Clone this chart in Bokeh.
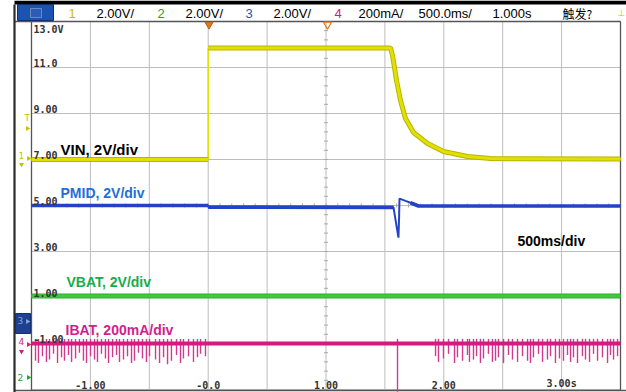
from bokeh.plotting import figure
from bokeh.models import Range1d
from bokeh.core.properties import value
from bokeh.embed import file_html
from bokeh.resources import INLINE
import numpy as np

# ---------------- data ----------------
# axis: time in s, vertical in the scope's displayed volts (2 V/div)
xtick_vals = [-1, 0, 1, 2, 3]
xtick_labels = ["-1.00", "-0.0", "1.00", "2.00", "3.00s"]
ytick_vals = [11, 9, 7, 5, 3, 1, -1]
ytick_labels = ["11.0", "9.00", "7.00", "5.00", "3.00", "1.00", "-1.00"]
ytop_label = "13.0V"

# CH1 VIN
vin_t = [-1.5, 0.0, 0.0, 1.548, 1.565, 1.599, 1.632, 1.675, 1.743, 1.862, 1.997, 2.201, 2.396, 3.5]
vin_v = [7.0, 7.0, 11.85, 11.85, 11.52, 10.43, 9.57, 8.78, 8.17, 7.70, 7.35, 7.13, 7.04, 7.02]

# CH3 PMID
pmid_t = [-1.5, 0.0, 0.0, 1.573, 1.615, 1.620, 1.624, 1.675, 1.717, 1.785, 3.5]
pmid_v = [5.0, 5.0, 4.93, 4.92, 3.6, 4.4, 5.3, 5.2, 5.12, 4.98, 4.98]

# CH2 VBAT
vbat_t = [-1.5, 3.5]
vbat_v = [1.07, 1.07]

# CH4 IBAT (baseline + negative spikes)
ibat_t = [-1.5, 3.5]
ibat_v = [-1.0, -1.0]
spike_t = [-1.466, -1.441, -1.407, -1.373, -1.347, -1.313, -1.279, -1.245, -1.220, -1.186,
           -1.160, -1.126, -1.093, -1.059, -1.033, -0.999, -0.965, -0.940, -0.906, -0.872,
           -0.846, -0.812, -0.778, -0.753, -0.719, -0.685, -0.651, -0.626, -0.592, -0.558,
           -0.524, -0.498, -0.447, -0.413, -0.379, -0.345, -0.312, -0.269, -0.235, -0.210,
           -0.167, -0.125, -0.091, -0.065, -0.023,
           1.607,
           1.930, 1.955, 1.997, 2.040, 2.091, 2.116, 2.159, 2.201, 2.218, 2.252,
           2.278, 2.311, 2.337, 2.379, 2.413, 2.439, 2.464, 2.507, 2.549, 2.583,
           2.626, 2.668, 2.711, 2.736, 2.761, 2.804, 2.838, 2.880, 2.906, 2.948,
           2.982, 3.016, 3.050, 3.076, 3.101, 3.135, 3.177, 3.203, 3.237, 3.271,
           3.305, 3.347, 3.390, 3.415, 3.441, 3.475]
spike_v = [-1.75, -1.85, -1.55, -1.80, -1.70, -1.45, -1.85, -1.60, -1.75, -1.50,
           -1.80, -1.65, -1.40, -1.75, -1.85, -1.55, -1.70, -1.80, -1.45, -1.65,
           -1.85, -1.60, -1.50, -1.80, -1.70, -1.55, -1.85, -1.75, -1.40, -1.65,
           -1.80, -1.55, -1.70, -1.85, -1.60, -1.90, -1.75, -1.50, -1.85, -1.65,
           -1.55, -1.80, -1.60, -1.45, -1.55,
           -3.10,
           -1.55, -1.80, -1.65, -1.45, -1.85, -1.60, -1.75, -1.50, -1.80, -1.70,
           -1.55, -1.85, -1.65, -1.45, -1.80, -1.75, -1.60, -1.85, -1.50, -1.70,
           -1.80, -1.55, -1.75, -1.85, -1.60, -1.45, -1.80, -1.70, -1.55, -1.85,
           -1.65, -1.75, -1.50, -1.80, -1.60, -1.85, -1.55, -1.70, -1.80, -1.45,
           -1.75, -1.60, -1.85, -1.50, -1.70, -1.55]

channel_labels = ["VIN, 2V/div", "PMID, 2V/div", "VBAT, 2V/div", "IBAT, 200mA/div", "500ms/div"]
header_labels = ["1", "2.00V/", "2", "2.00V/", "3", "2.00V/", "4", "200mA/", "500.0ms/", "1.000s"]
header_cjk = "触发?"

# ---------------- layout ----------------
W, H = 626, 392
GX0, GX1, GY0, GY1 = 31, 620, 21, 389
T0, T1 = -1.5, 3.5
V0, V1 = -3.0, 13.0
sx = (GX1 - GX0) / (T1 - T0)
sy = (GY1 - GY0) / (V1 - V0)
xr = Range1d(T0 - GX0 / sx, T1 + (W - GX1) / sx)
yr = Range1d(V0 - (H - GY1) / sy, V1 + GY0 / sy)

YEL = "#e2e000"
YEL_D = "#b9b400"
BLUE = "#2343c6"
GREEN = "#3ec93e"
MAG = "#d51a7f"

p = figure(width=W, height=H, x_range=xr, y_range=yr, output_backend="svg",
           toolbar_location=None, x_axis_location=None, y_axis_location=None,
           min_border=0, outline_line_color=None,
           background_fill_color="white", border_fill_color="white")
p.grid.visible = False
p.extra_x_ranges = {"px": Range1d(0, W)}
p.extra_y_ranges = {"px": Range1d(H, 0)}
PX = dict(x_range_name="px", y_range_name="px")

# grid
gx = np.arange(T0, T1 + 1e-9, 0.5)
gy = np.arange(V0, V1 + 1e-9, 2.0)
p.segment(x0=gx, y0=V0, x1=gx, y1=V1, line_color="#bdbdbd", line_width=1)
p.segment(x0=T0, y0=gy, x1=T1, y1=gy, line_color="#bdbdbd", line_width=1)
# minor ticks on centre lines
mt_v = np.arange(V0, V1 + 1e-9, 0.4)
p.segment(x0=1.0 - 2 / sx, y0=mt_v, x1=1.0 + 2 / sx, y1=mt_v, line_color="#a8a8a8", line_width=1)
mt_t = np.arange(T0, T1 + 1e-9, 0.1)
p.segment(x0=mt_t, y0=5.0 - 2 / sy, x1=mt_t, y1=5.0 + 2 / sy, line_color="#a8a8a8", line_width=1)

# frame lines
p.segment(x0=[GX0, GX1, 14, 14], y0=[GY0, GY0, GY0, 390],
          x1=[GX0, GX1, GX1, 626], y1=[GY1 + 1, GY1 + 1, GY0, 390],
          line_color="#555555", line_width=1.3, **PX)
p.segment(x0=[14], y0=[4], x1=[14], y1=[392], line_color="#2a2a2a", line_width=2.2, **PX)
p.quad(left=[14], right=[626], top=[0], bottom=[4], fill_color="black", line_color=None, **PX)

# traces
p.segment(x0=spike_t, y0=-0.8, x1=spike_t, y1=spike_v, line_color="#d23a92", line_width=1.4)
p.line(ibat_t, ibat_v, line_color=MAG, line_width=4.2)
p.line(vbat_t, vbat_v, line_color="#2fae2f", line_width=5)
p.line(vbat_t, vbat_v, line_color=GREEN, line_width=3)
p.line(pmid_t, pmid_v, line_color=BLUE, line_width=2)
p.line(pmid_t[:2], pmid_v[:2], line_color=BLUE, line_width=3.6)
p.line(pmid_t[2:4], pmid_v[2:4], line_color=BLUE, line_width=3.6)
p.line(pmid_t[8:], pmid_v[8:], line_color=BLUE, line_width=3.6)
p.line(vin_t, vin_v, line_color=YEL, line_width=1.5)
p.line(vin_t[:2], vin_v[:2], line_color=YEL_D, line_width=5)
p.line(vin_t[:2], vin_v[:2], line_color=YEL, line_width=3)
p.line(vin_t[2:], vin_v[2:], line_color=YEL_D, line_width=5)
p.line(vin_t[2:], vin_v[2:], line_color=YEL, line_width=3)

# tick labels inside the grid
MONO = value("DejaVu Sans Mono")
p.text(x=T0 + 2 / sx, y=ytick_vals, text=ytick_labels, text_font=MONO, text_font_size=value("10px"),
       text_font_style="bold", text_color="#333333", text_baseline="bottom", text_align="left", y_offset=-1)
p.text(x=[T0 + 2 / sx], y=[V1], text=[ytop_label], text_font=MONO, text_font_size=value("10px"),
       text_font_style="bold", text_color="#333333", text_baseline="top", text_align="left", y_offset=2)
p.text(x=xtick_vals, y=V0, text=xtick_labels, text_font=MONO, text_font_size=value("10px"),
       text_font_style="bold", text_color="#333333", text_baseline="bottom", text_align="center", y_offset=-1)

# channel annotations
lab_x = [60, 60, 66, 65, 517]
lab_y = [149, 192, 281, 329, 240]
lab_c = ["#000000", "#1f6fd4", "#16ad4a", "#d41c8c", "#000000"]
lab_s = ["15px", "14px", "14px", "14px", "14px"]
p.text(x=lab_x, y=lab_y, text=channel_labels, text_color=lab_c, text_font=value("Liberation Sans"),
       text_font_size=lab_s, text_font_style="bold", text_baseline="middle", **PX)

# header
p.quad(left=[17], right=[53], top=[4], bottom=[20], fill_color="#1c52b0", line_color="#0e2f6e", **PX)
p.quad(left=[30], right=[41], top=[8], bottom=[17], fill_color="#2a5cb8", line_color="#6f88b8", **PX)
hx = [68, 96, 157, 185, 245, 273, 334, 358, 418, 492]
hc = ["#c4c000", "black", "#2ca02c", "black", "#3050b0", "black", "#d01c80", "black", "black", "black"]
p.text(x=hx, y=12.5, text=header_labels, text_color=hc, text_font=value("Liberation Sans"),
       text_font_size=value("13px"), text_baseline="middle", **PX)
p.text(x=[562], y=[12.5], text=[header_cjk], text_color="black", text_font=value("Noto Sans CJK SC"),
       text_font_size=value("12px"), text_baseline="middle", **PX)
p.text(x=[617], y=[12.5], text=["⊥"], text_color="#c4c000", text_font=value("DejaVu Sans"),
       text_font_size=value("9px"), text_baseline="middle", **PX)

# trigger markers
p.scatter(x=[208.5], y=[24], marker="inverted_triangle", size=8, fill_color="#e07a1e", line_color="#b85a10", **PX)
p.scatter(x=[327], y=[24], marker="inverted_triangle", size=8, fill_color=None, line_color="#e07a1e", line_width=1.2, **PX)

# left channel markers
p.quad(left=[15], right=[30], top=[313], bottom=[333], fill_color="#1f3f8f", line_color="#15306e", **PX)
mk_t = ["T", "1", "3", "4", "2"]
mk_x = [24, 18, 17, 18, 17]
mk_y = [117, 155, 320, 341, 377]
mk_c = ["#c8c000", "#c8c000", "#7fa3e8", "#d01c80", "#2ca02c"]
p.text(x=mk_x, y=mk_y, text=mk_t, text_color=mk_c, text_font=value("DejaVu Sans"),
       text_font_size=value("9px"), text_baseline="middle", **PX)
p.scatter(x=[27, 28, 27, 28, 28], y=[128, 158, 321, 344, 377], marker="triangle", angle=-np.pi / 2,
          size=5, fill_color=mk_c, line_color=None, **PX)
p.scatter(x=[21, 21], y=[164, 351], marker="inverted_triangle", size=5,
          fill_color=["#c8c000", "#d01c80"], line_color=None, **PX)

open("out.html", "w").write(file_html(p, INLINE))
